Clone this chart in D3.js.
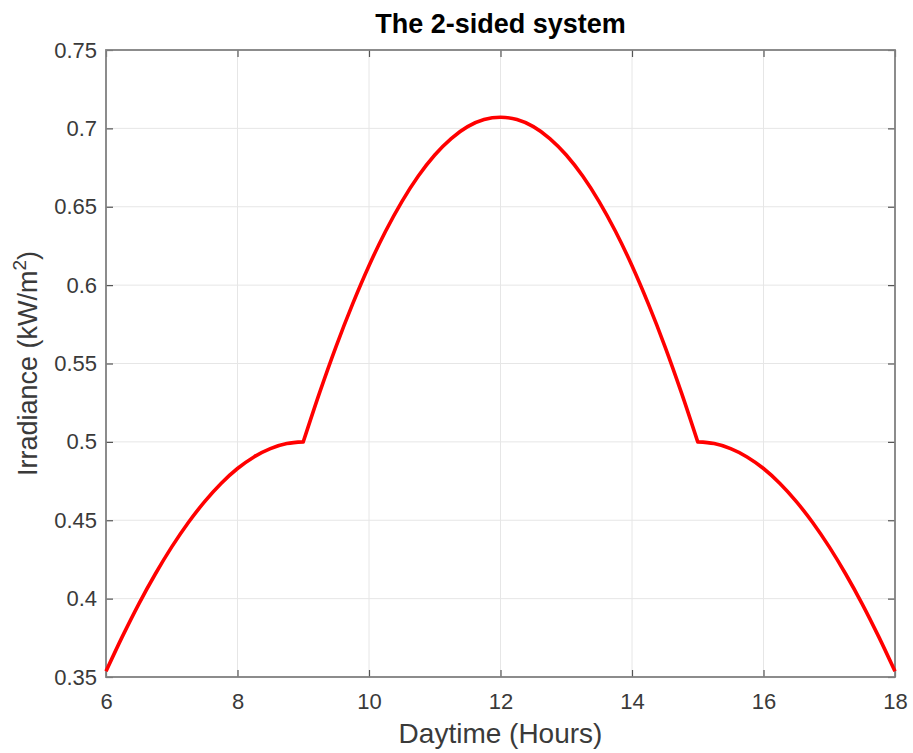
<!DOCTYPE html>
<html>
<head>
<meta charset="utf-8">
<script src="https://cdn.jsdelivr.net/npm/d3@7"></script>
<style>
  html, body { margin: 0; padding: 0; background: #fff; }
  svg { display: block; font-family: "Liberation Sans", Arial, Helvetica, sans-serif; }
</style>
</head>
<body>
<svg id="chart" width="913" height="753"></svg>
<script>
// Irradiance on the 2-sided system over the day, sampled every quarter hour
const hours = [
  6, 6.25, 6.5, 6.75, 7, 7.25, 7.5, 7.75, 8, 8.25, 8.5, 8.75,
  9, 9.25, 9.5, 9.75, 10, 10.25, 10.5, 10.75, 11, 11.25, 11.5, 11.75,
  12, 12.25, 12.5, 12.75, 13, 13.25, 13.5, 13.75, 14, 14.25, 14.5, 14.75,
  15, 15.25, 15.5, 15.75, 16, 16.25, 16.5, 16.75, 17, 17.25, 17.5, 17.75, 18
];
const irradiance = [
  0.3536, 0.3759, 0.3967, 0.4157, 0.4330, 0.4484, 0.4619, 0.4735, 0.4830, 0.4904, 0.4957, 0.4989,
  0.5000, 0.5316, 0.5610, 0.5879, 0.6124, 0.6342, 0.6533, 0.6696, 0.6830, 0.6935, 0.7011, 0.7056,
  0.7071, 0.7056, 0.7011, 0.6935, 0.6830, 0.6696, 0.6533, 0.6342, 0.6124, 0.5879, 0.5610, 0.5316,
  0.5000, 0.4989, 0.4957, 0.4904, 0.4830, 0.4735, 0.4619, 0.4484, 0.4330, 0.4157, 0.3967, 0.3759, 0.3536
];
// hours where the panel side in view switches (curve has a corner there)
const switchHours = [9, 15];
const xTicks = [6, 8, 10, 12, 14, 16, 18];
const yTicks = [0.35, 0.4, 0.45, 0.5, 0.55, 0.6, 0.65, 0.7, 0.75];
const titleText = "The 2-sided system";
const xLabelText = "Daytime (Hours)";

const W = 913, H = 753;
const margin = { top: 50, right: 18, bottom: 76, left: 106 };
const iw = W - margin.left - margin.right;
const ih = H - margin.top - margin.bottom;
const fontFamily = '"Liberation Sans", Arial, Helvetica, sans-serif';

const svg = d3.select("#chart");
const g = svg.append("g").attr("transform", `translate(${margin.left},${margin.top})`);

const x = d3.scaleLinear().domain([6, 18]).range([0, iw]);
const y = d3.scaleLinear().domain([0.35, 0.75]).range([ih, 0]);

const axisColor = "#808080";
const textColor = "#3a3a3a";
const gridColor = "#e6e6e6";

// grid lines
g.append("g").selectAll("line").data(xTicks.slice(1, -1)).join("line")
  .attr("x1", d => x(d)).attr("x2", d => x(d))
  .attr("y1", 0).attr("y2", ih)
  .attr("stroke", gridColor).attr("stroke-width", 1);
g.append("g").selectAll("line").data(yTicks.slice(1, -1)).join("line")
  .attr("x1", 0).attr("x2", iw)
  .attr("y1", d => y(d)).attr("y2", d => y(d))
  .attr("stroke", gridColor).attr("stroke-width", 1);

// axes: ticks drawn inward, labels outside
function styleAxis(sel) {
  sel.select(".domain").remove();
  sel.selectAll(".tick line").attr("stroke", "#555").attr("stroke-width", 1.2);
  sel.selectAll(".tick text").attr("fill", textColor)
    .style("font-size", "22px")
    .style("font-family", fontFamily);
}
const tickLen = 7;
g.append("g").attr("transform", `translate(0,${ih})`)
  .call(d3.axisBottom(x).tickValues(xTicks).tickFormat(d3.format("d")).tickSizeInner(-tickLen).tickSizeOuter(0).tickPadding(16))
  .call(styleAxis);
g.append("g")
  .call(d3.axisTop(x).tickValues(xTicks).tickFormat("").tickSizeInner(-tickLen).tickSizeOuter(0))
  .call(styleAxis);
g.append("g")
  .call(d3.axisLeft(y).tickValues(yTicks).tickFormat(d => String(+d.toFixed(2))).tickSizeInner(-tickLen).tickSizeOuter(0).tickPadding(9))
  .call(styleAxis);
g.append("g").attr("transform", `translate(${iw},0)`)
  .call(d3.axisRight(y).tickValues(yTicks).tickFormat("").tickSizeInner(-tickLen).tickSizeOuter(0))
  .call(styleAxis);

// box frame
g.append("rect").attr("x", 0).attr("y", 0).attr("width", iw).attr("height", ih)
  .attr("fill", "none").attr("stroke", axisColor).attr("stroke-width", 1.8);

// data line, smoothed within each segment and sharp at the switch hours
const points = hours.map((h, i) => [h, irradiance[i]]);
const bounds = [hours[0], ...switchHours, hours[hours.length - 1]];
const segments = d3.pairs(bounds).map(([a, b]) => points.filter(p => p[0] >= a && p[0] <= b));
const line = d3.line().x(d => x(d[0])).y(d => y(d[1])).curve(d3.curveMonotoneX);
const pathD = segments.map(s => line(s)).map((d, i) => i === 0 ? d : d.replace(/^M/, "L")).join("");
g.append("path")
  .attr("d", pathD)
  .attr("fill", "none").attr("stroke", "#ff0000")
  .attr("stroke-width", 3.6).attr("stroke-linejoin", "round");

// title
svg.append("text")
  .attr("x", margin.left + iw / 2).attr("y", 33)
  .attr("text-anchor", "middle")
  .attr("fill", "#000")
  .style("font-size", "27px").style("font-weight", "bold")
  .text(titleText);

// x label
svg.append("text")
  .attr("x", margin.left + iw / 2).attr("y", 743)
  .attr("text-anchor", "middle")
  .attr("fill", textColor)
  .style("font-size", "28px")
  .text(xLabelText);

// y label with superscript
const yl = svg.append("text")
  .attr("transform", `translate(37,${margin.top + ih / 2}) rotate(-90)`)
  .attr("text-anchor", "middle")
  .attr("fill", textColor)
  .style("font-size", "27px");
yl.append("tspan").text("Irradiance (kW/m");
yl.append("tspan").attr("dy", -11).style("font-size", "19px").text("2");
yl.append("tspan").attr("dy", 11).text(")");
</script>
</body>
</html>
